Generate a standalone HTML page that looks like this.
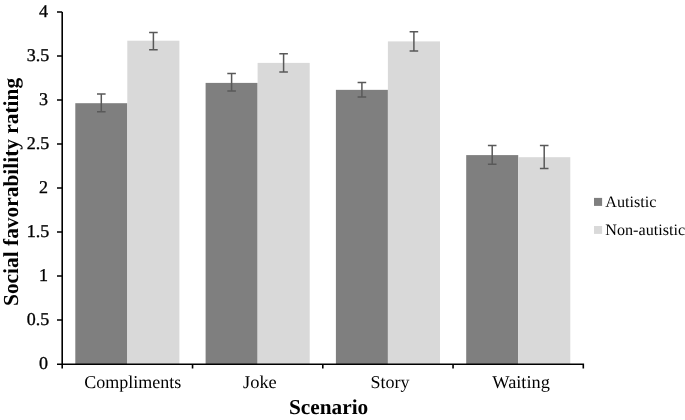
<!DOCTYPE html>
<html>
<head>
<meta charset="utf-8">
<style>
html,body{margin:0;padding:0;background:#fff;}
body{width:685px;height:420px;overflow:hidden;}
svg{display:block;}
.gs{opacity:0.999;}
text{font-family:"Liberation Serif",serif;fill:#000;text-rendering:geometricPrecision;}
.tk{font-size:18px;text-anchor:end;stroke:#000;stroke-width:0.35px;}
.cl{font-size:18px;}
.lg{font-size:16px;}
.tt{font-size:21px;font-weight:bold;}
.ax{stroke:#000;stroke-width:1.6;fill:none;}
.eb{stroke:#595959;stroke-width:1.5;fill:none;}
</style>
</head>
<body>
<svg width="685" height="420" viewBox="0 0 685 420">
<rect x="0" y="0" width="685" height="420" fill="#fff"/>
<!-- bars -->
<g>
<rect x="75.3" y="103.2" width="52.0" height="260.8" fill="#7f7f7f"/>
<rect x="127.3" y="40.7" width="52.1" height="323.3" fill="#d9d9d9"/>
<rect x="205.6" y="82.9" width="52.0" height="281.1" fill="#7f7f7f"/>
<rect x="257.6" y="62.9" width="52.1" height="301.1" fill="#d9d9d9"/>
<rect x="335.9" y="89.85" width="52.0" height="274.15" fill="#7f7f7f"/>
<rect x="387.9" y="41.4" width="52.1" height="322.6" fill="#d9d9d9"/>
<rect x="466.2" y="155.1" width="52.0" height="208.9" fill="#7f7f7f"/>
<rect x="518.2" y="157.2" width="52.1" height="206.8" fill="#d9d9d9"/>
</g>
<!-- error bars -->
<g class="eb">
<path d="M101.3 94.0V111.8M97 94.0H105.6M97 111.8H105.6"/>
<path d="M153.4 32.5V49.8M149.1 32.5H157.7M149.1 49.8H157.7"/>
<path d="M231.6 73.6V91.0M227.3 73.6H235.9M227.3 91.0H235.9"/>
<path d="M283.6 53.7V71.9M279.3 53.7H287.9M279.3 71.9H287.9"/>
<path d="M361.9 82.6V97.1M357.6 82.6H366.2M357.6 97.1H366.2"/>
<path d="M413.9 31.8V50.9M409.6 31.8H418.2M409.6 50.9H418.2"/>
<path d="M492.2 145.6V164.3M487.9 145.6H496.5M487.9 164.3H496.5"/>
<path d="M544.2 145.6V168.6M539.9 145.6H548.5M539.9 168.6H548.5"/>
</g>
<!-- axes -->
<g class="ax">
<path d="M62.2 12V368.6"/>
<path d="M57 364.2H583.3V368.6"/>
<path d="M192.55 364.2V368.6M322.8 364.2V368.6M453.05 364.2V368.6"/>
<path d="M57 12H62.2M57 56H62.2M57 100H62.2M57 144H62.2M57 188H62.2M57 232H62.2M57 276H62.2M57 320H62.2"/>
</g>
<g class="gs">
<!-- y tick labels -->
<g class="tk">
<text transform="translate(48.0,17.2) scale(1,1)">4</text>
<text transform="translate(49.2,61.2) scale(1,1)">3.5</text>
<text transform="translate(48.0,105.2) scale(1,1)">3</text>
<text transform="translate(49.2,149.2) scale(1,1)">2.5</text>
<text transform="translate(48.0,193.2) scale(1,1)">2</text>
<text transform="translate(49.2,237.2) scale(1,1)">1.5</text>
<text transform="translate(48.0,281.2) scale(1,1)">1</text>
<text transform="translate(49.2,325.2) scale(1,1)">0.5</text>
<text transform="translate(48.0,369.2) scale(1,1)">0</text>
</g>
<!-- category labels -->
<g class="cl">
<text x="84.2" y="388">Compliments</text>
<text x="243" y="388" textLength="33.8" lengthAdjust="spacingAndGlyphs">Joke</text>
<text x="370.5" y="388">Story</text>
<text x="492.3" y="388" textLength="57.6" lengthAdjust="spacingAndGlyphs">Waiting</text>
</g>
<!-- titles -->
<text class="tt" x="289" y="413.8" style="font-size:21.3px">Scenario</text>
<text class="tt" transform="translate(18.3,306) rotate(-90)" x="0" y="0" style="font-size:21.4px">Social favorability rating</text>
<!-- legend -->
<rect x="594" y="197.9" width="8.1" height="8" fill="#7f7f7f"/>
<rect x="594" y="226" width="8.1" height="7.9" fill="#d9d9d9"/>
<text class="lg" x="605.3" y="206.7" textLength="51.2" lengthAdjust="spacingAndGlyphs">Autistic</text>
<text class="lg" x="605.3" y="234.7" textLength="79.8" lengthAdjust="spacingAndGlyphs">Non-autistic</text>
</g>
</svg>
</body>
</html>
